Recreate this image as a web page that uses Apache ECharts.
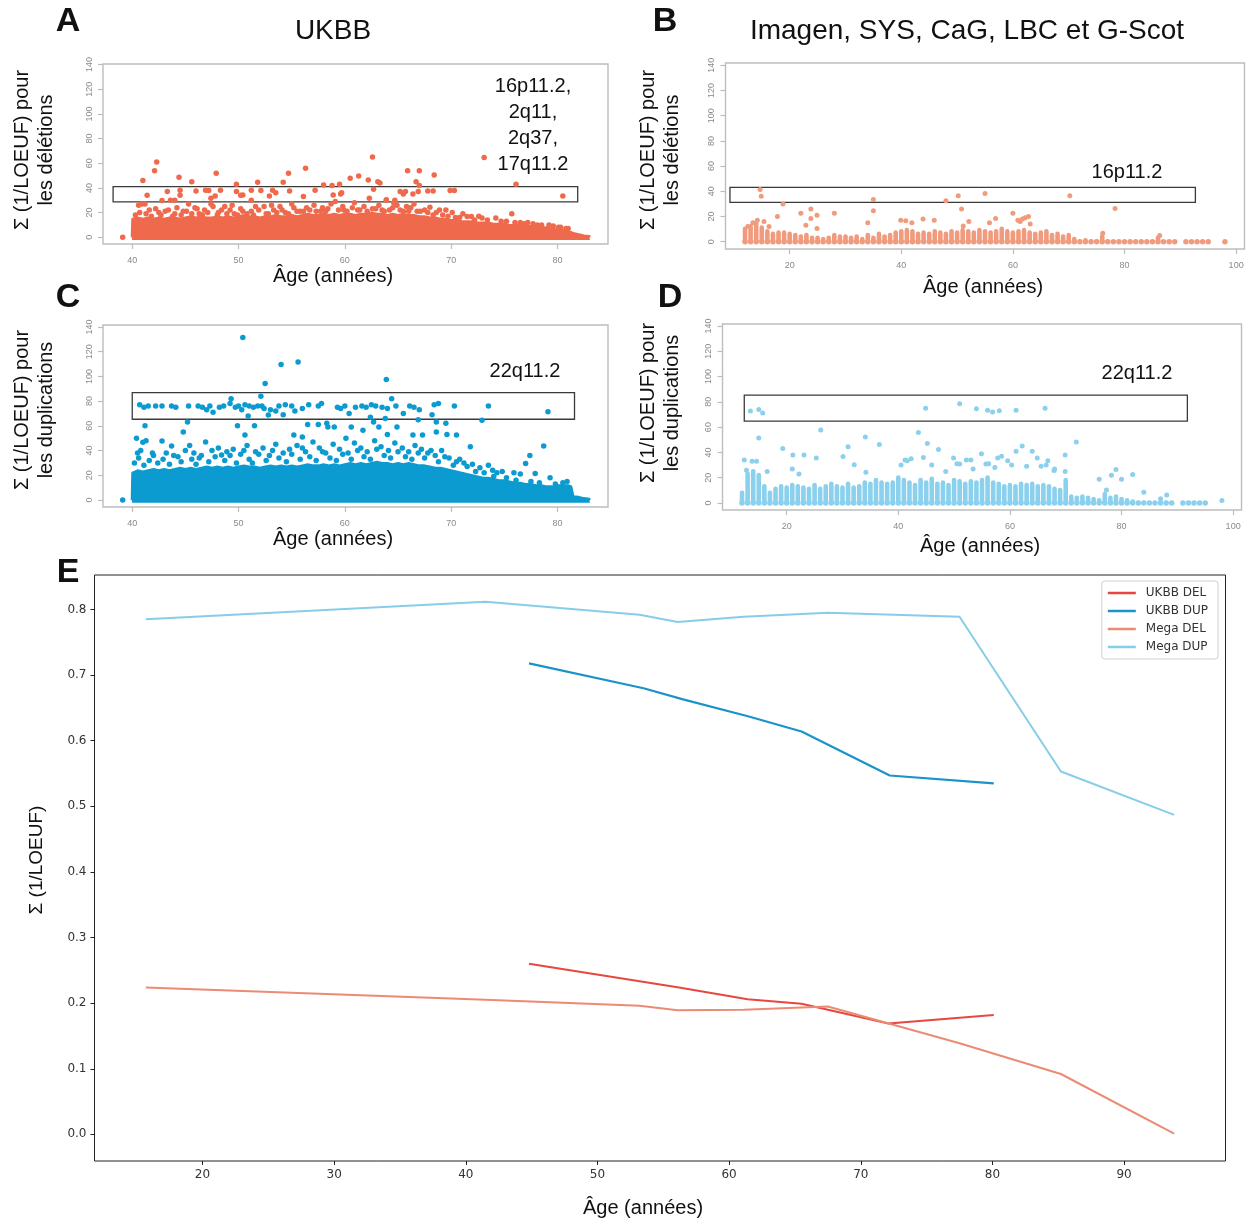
<!DOCTYPE html>
<html><head><meta charset="utf-8">
<script src="https://cdn.jsdelivr.net/npm/echarts@6/dist/echarts.min.js"></script>
<style>html,body{margin:0;padding:0;background:#fff}#c{width:1250px;height:1222px}</style>
</head><body><div id="c"></div>
<script>
// ---------- Tick labels ----------
var ticksAgeUKBB = [40, 50, 60, 70, 80];
var ticksAgeMega = [20, 40, 60, 80, 100];
var ticksScore = [0, 20, 40, 60, 80, 100, 120, 140];
var ticksAgeE = [20, 30, 40, 50, 60, 70, 80, 90];
var ticksE = [0, 0.1, 0.2, 0.3, 0.4, 0.5, 0.6, 0.7, 0.8];

// ---------- Panel A : UKBB deletions ----------
var bandA = [[39.95,0],[40,15],[40.5,16],[41,15],[41.5,16],[42,15],[42.5,16],[43,15],[43.5,16],[44,16],[44.5,15],[45,16],[45.5,17],[46,16],[46.5,17],[47,16],[47.5,16],[48,17],[48.5,16],[49,17],[49.5,16],[50,17],[50.5,18],[51,17],[51.5,17],[52,16],[52.5,17],[53,17],[53.5,18],[54,17],[54.5,17],[55,18],[55.5,17],[56,18],[56.5,19],[57,18],[57.5,18],[58,19],[58.5,18],[59,19],[59.5,18],[60,19],[60.5,19],[61,18],[61.5,19],[62,19],[62.5,20],[63,19],[63.5,19],[64,18],[64.5,19],[65,18],[65.5,19],[66,18],[66.5,18],[67,17],[67.5,17],[68,16],[68.5,16],[69,15],[69.5,15],[70,14],[70.5,14],[71,13],[71.5,13],[72,13],[72.5,12],[73,12],[73.5,12],[74,11],[74.5,11],[75,11],[75.5,10],[76,10],[76.5,10],[77,9],[77.5,9],[78,8],[78.5,8],[79,8],[79.5,7],[80,6],[80.5,6],[81,5],[81.5,3.5],[82,2.5],[82.5,1.5],[83,1],[83.05,0]];
var pointsA = [[40.6,26],[40.9,27],[41.2,27],[41.6,22],[42.5,20],[43.4,22],[44.0,19],[44.8,21],[45.3,27],[45.9,24],[46.3,19],[46.8,22],[47.6,25],[48.1,20],[48.7,25],[49.2,22],[49.6,19],[50.4,21],[51.2,21],[51.6,25],[52.4,25],[52.8,19],[53.3,22],[53.9,25],[54.4,20],[55.2,24],[55.8,21],[56.7,22],[57.1,26],[57.7,21],[58.4,23],[59.1,29],[59.9,22],[60.7,24],[61.4,22],[62.3,31.6],[62.9,23],[63.5,22],[63.9,30],[64.5,24],[64.9,26],[65.5,21],[66.2,24],[66.8,21],[67.5,22],[68,24.4],[68.6,20],[69.2,18],[69.5,22],[70.1,20],[70.8,16],[71.5,16.8],[71.9,16.8],[72.9,15.5],[74.2,15.5],[75.7,19],[76.5,12],[77.7,11],[78.5,10],[79.2,10],[80.1,8],[80.8,7],
[40.3,18],[40.7,20],[41.3,19],[41.8,17],[42.2,23],[42.7,18],[43.1,21],[43.8,17],[44.2,24],[44.6,18],[45.1,21],[45.6,19],[46.1,23],[46.6,18],[47.1,20],[47.4,27],[48.0,18],[48.4,22],[48.9,19],[49.4,26],[49.9,18],[50.2,23],[50.8,19],[51.4,18],[51.9,22],[52.6,19],[53.1,26],[53.6,20],[54.1,22],[54.7,19],[55.0,27],[55.5,21],[56.1,21],[56.4,24],[57.3,21],[57.9,24],[58.2,21],[58.7,27],[59.4,22],[59.8,25],[60.2,21],[60.9,28],[61.2,22],[61.8,25],[62.1,21],[62.6,23],[63.2,26],[63.7,21],[64.2,22],[64.6,28],[65.2,22],[65.8,25],[66.0,21],[66.5,27],[67.1,21],[67.8,20],[68.3,18],[68.9,22],[69.7,17],[70.4,16],[71.1,19],[72.2,14],[72.6,17],[73.4,14],[74.7,13],[75.2,13],[76.0,12],[76.9,11],[77.2,12],[78.1,10],[79.6,9],[80.3,8],[81.0,7],
[39.1,0],[41.0,46],[42.1,54],[42.3,61],[41.4,34],[43.3,37],[43.6,30],[42.8,29.7],[44.4,48.6],[44.5,38],[44.5,34],[45.6,45],[46.0,37.5],[47.2,37.8],[47.4,31.6],[47.9,51.8],[47.8,33.5],[48.3,38],[49.8,43],[49.8,37],[50.4,34.3],[51.2,38],[51.2,30],[51.8,44.5],[52.1,37.8],[52.9,33.5],[53.5,36],[54.2,44.5],[54.7,51.8],[54.8,37.5],[56.3,56],[56.1,33],[57.2,38],[58.0,42.4],[58.9,34.3],[59.5,43],[59.7,36],[60.5,47.8],[61.3,49.6],[62.2,46.4],[62.6,65],[62.7,39],[63.1,45],[63.3,44],[63.9,30.3],[65.2,37],[65.7,37],[65.9,54],[67.0,54],[66.7,45],[66.9,37],[67.0,42],[67.8,37.5],[68.3,37.5],[68.4,50.4],[69.9,37.8],[70.3,37.8],[73.1,64.7],[76.1,43],[80.5,33.5],[44.0,30],[46.9,38],[50.2,34],[53.2,38],[58.8,42],[59.6,35],[64.7,30],[65.5,35],[66.4,35]];
var rectA = [[38.2,28.6],[81.9,41]];

// ---------- Panel B : Mega deletions ----------
var colAgesB = [12,13,14,15,16,17,18,19,20,21,22,23,24,25,26,27,28,29,30,31,32,33,34,35,36,37,38,39,40,41,42,43,44,45,46,47,48,49,50,51,52,53,54,55,56,57,58,59,60,61,62,63,64,65,66,67,68,69,70,71,72,73,74,75,76,77,78,79,80,81,82,83,84,85,86,87,88,89,91,92,93,94,95,98];
var colTopsB = [12,14,16,13,10,8,9,9,8,7,6,7,5,5,4,5,7,6,6,5,6,4,7,5,8,6,7,9,10,11,10,8,9,8,10,9,8,10,9,11,10,9,11,10,9,10,12,10,9,10,11,9,8,9,10,7,8,6,7,4,2,3,2,2,6,2,1,1,1,1,1,1,1,1,5,1,1,1,0,0,0,0,0,0];
var pointsB = [[14.7,41.5],[14.9,36],[18.8,30],[17.8,20],[22.0,22.5],[22.9,13],[23.8,26],[23.8,18.5],[24.9,21],[24.9,10.5],[28.0,22.5],[34.0,15],[35.0,33.5],[35.0,24.5],[39.9,17],[40.8,16.6],[41.9,15],[43.9,18],[45.9,17],[48.0,32.5],[50.2,36.5],[50.8,26],[51.1,12.4],[52.1,16],[55.0,38.3],[55.8,15],[56.9,18.5],[60.0,22.5],[60.9,17],[61.3,16],[61.7,18],[62.2,19],[62.8,20],[63.1,14],[70.2,36.5],[78.3,26.4],[76.1,6.6],[86.3,5],[12.5,12],[13.4,15],[14.2,17],[15.4,16],[16.3,12]];
var rectB = [[9.3,31.2],[92.7,43.1]];

// ---------- Panel C : UKBB duplications ----------
var bandC = [[39.95,0],[40,22],[40.5,24],[41,23],[41.5,24],[42,25],[42.5,24],[43,25],[43.5,24],[44,25],[44.5,26],[45,25],[45.5,26],[46,25],[46.5,26],[47,27],[47.5,26],[48,27],[48.5,26],[49,27],[49.5,26],[50,27],[50.5,28],[51,27],[51.5,27],[52,26],[52.5,27],[53,28],[53.5,27],[54,28],[54.5,27],[55,28],[55.5,27],[56,28],[56.5,29],[57,28],[57.5,28],[58,29],[58.5,28],[59,29],[59.5,28],[60,29],[60.5,30],[61,29],[61.5,30],[62,29],[62.5,30],[63,31],[63.5,30],[64,30],[64.5,29],[65,30],[65.5,29],[66,30],[66.5,29],[67,28],[67.5,28],[68,27],[68.5,26],[69,26],[69.5,25],[70,24],[70.5,23],[71,22],[71.5,21],[72,20],[72.5,19],[73,18],[73.5,18],[74,17],[74.5,16],[75,16],[75.5,15],[76,14],[76.5,14],[77,13],[77.5,13],[78,12],[78.5,12],[79,11],[79.5,11],[80,12],[80.5,12],[81,12],[81.3,11],[81.5,3],[82,2.5],[82.5,1.5],[83,1],[83.05,0]];
var pointsC = [[40.5,38],[40.8,40],[41.0,46.7],[41.3,48],[42.0,36],[42.8,47.7],[43.2,38],[43.7,43.6],[44.3,35],[45.4,44],[45.8,38],[46.3,34],[46.9,47],[47.5,40],[48.4,36.3],[48.9,39],[49.5,41],[50.2,37],[50.8,44],[51.6,39],[52.3,42],[52.9,36],[53.5,45],[54.2,38],[54.8,41],[55.5,44],[56.3,39],[57.0,47],[57.6,42],[58.2,38],[58.9,45],[59.5,41],[60.3,38],[60.9,46],[61.5,42],[62.1,39],[62.8,48],[63.4,43],[64.1,40],[64.7,46],[65.4,42],[66.0,39],[66.6,44],[67.2,41],[67.8,38],[68.5,36],[69.1,40],[69.8,34],[70.5,31],[71.2,30],[72.0,29],[72.7,26],[73.5,28],[74.3,22],[75.9,22],[76.5,21],[77.0,29.6],[77.4,36],[77.9,21.5],[78.7,43.6],[79.3,18],[80.5,14],[73.9,24],[74.8,23],
[40.2,30],[40.6,34],[41.1,28],[41.6,32],[41.9,38],[42.4,30],[42.9,33],[43.5,29],[43.9,36],[44.6,31],[45.0,40],[45.6,33],[46.0,29],[46.5,36],[47.2,31],[47.8,35],[48.1,42],[48.7,32],[49.2,36],[49.8,30],[50.5,40],[51.0,33],[51.3,30],[51.9,37],[52.6,32],[53.2,40],[53.8,34],[54.5,31],[55.0,37],[55.8,33],[56.0,42],[56.7,35],[57.3,32],[57.9,39],[58.6,34],[59.2,32],[59.8,37],[60.6,33],[61.2,40],[61.8,35],[62.4,33],[63.0,41],[63.7,36],[64.3,34],[65.0,39],[65.7,35],[66.3,33],[66.9,38],[67.5,34],[68.1,40],[68.8,31],[69.4,35],[70.2,28],[70.8,33],[71.5,27],[72.3,23],[73.1,22],[74.0,19],[75.2,18],[76.1,16],[77.5,15],[78.3,14],[79.8,13],[80.9,15],
[39.1,0],[50.4,131.4],[54.0,109.6],[55.6,111.7],[52.5,94.2],[52.1,84],[63.9,97.5],[79.1,71.3],[72.9,64.6],[73.5,76],
[40.7,77],[41.1,75],[41.5,76],[42.2,76],[42.8,76],[43.7,76],[44.1,75],[45.3,76],[46.2,76],[46.6,75],[47.0,73],[47.3,76],[47.6,71],[48.2,75],[48.6,76],[49.2,78],[49.3,82],[49.7,75],[50.0,76],[50.3,73],[50.6,77],[51.0,76],[51.4,75],[51.8,76],[52.2,76],[52.4,74],[53.0,73],[53.8,76],[54.4,77],[55.0,76],[55.3,72],[56.0,74],[56.6,77],[57.5,76],[57.8,78],[59.3,75],[59.6,74],[60.0,76],[60.4,70],[61.0,75],[61.6,76],[62.0,75],[62.5,77],[62.9,76],[63.5,75],[64.0,74],[64.4,82],[64.8,76],[66.1,76],[66.5,75],[67.0,73],[68.4,77],[68.8,78],[70.3,76],
[41.2,60],[45.2,63],[44.8,55],[40.4,50],[49.9,60],[50.6,52.5],[51.5,60],[52.8,68.7],[55.2,52.5],[56.0,51],[56.5,61],[57.5,61],[58.4,59],[59.0,59],[60.1,50],[60.6,59],[61.7,56.5],[62.7,63],[63.2,59],[64.0,53],[64.9,59],[66.4,52.5],[67.3,52.5],[68.6,55],[68.6,63],[69.6,53],[70.5,52.5],[71.8,43],[50.9,68],[53.5,72],[54.2,69],[58.3,62],[62.4,67],[63.8,66],[65.5,70],[66.9,65],[68.2,69],[69.5,62]];
var rectC = [[40.0,65.3],[81.6,86.8]];

// ---------- Panel D : Mega duplications ----------
var colAgesD = [12,13,14,15,16,17,18,19,20,21,22,23,24,25,26,27,28,29,30,31,32,33,34,35,36,37,38,39,40,41,42,43,44,45,46,47,48,49,50,51,52,53,54,55,56,57,58,59,60,61,62,63,64,65,66,67,68,69,70,71,72,73,74,75,76,77,78,79,80,81,82,83,84,85,86,87,88,89,91,92,93,94,95];
var colTopsD = [10,25,27,24,15,10,13,15,14,16,15,14,13,16,13,15,17,15,14,17,14,15,18,17,20,18,17,18,22,20,18,16,20,18,21,17,18,16,20,19,17,19,18,20,22,18,17,15,16,15,17,16,17,15,16,15,13,12,20,7,6,7,6,5,4,9,6,7,5,4,3,2,2,1,1,1,2,1,0,0,0,0,0];
var pointsD = [[13.5,72.7],[15.0,74],[15.7,71.2],[44.9,75],[51.0,78.4],[54.0,74.5],[56.0,73.3],[56.9,72],[58.1,73],[61.1,73.3],[66.3,75],[15,51.4],[26.1,57.8],[34.1,52.2],[36.6,46.3],[30.1,36.8],[31,44.5],[32.1,30.3],[34.2,24.4],[19.3,43.2],[21.1,38],[23.1,38],[25.3,35.5],[22.2,23],[21,27],[43.6,55.8],[45.2,47],[47.2,42.4],[41.6,33.4],[49.9,35.5],[51,30.8],[53,34],[54.9,39],[55.7,30.8],[57.8,35.5],[59.6,33.4],[61.1,41],[62.2,45],[64,41],[64.9,35.5],[66.8,33.4],[67.9,25.7],[69.9,38],[69.9,25],[71.9,48.3],[76,18.8],[77.3,10.3],[78.2,21.9],[79,26.5],[80,18.8],[82,22.6],[84,8.5],[87,3.3],[88.1,6.4],[12.4,34],[12.8,26],[13.8,33],[14.6,33],[16.5,25],[40.5,30],[41.2,34],[42.3,35],[44.5,36],[46.0,30],[48.5,25],[50.5,31],[52.2,34],[53.4,27],[56.2,31],[57.3,28],[58.5,37],[60.3,30],[63.0,29],[65.6,29],[66.5,30],[68.0,27],[98,2]];
var rectD = [[12.4,64.8],[91.8,85.3]];

// ---------- Panel E : mean Σ(1/LOEUF) by age ----------
var ukbbDelAge = [44.8, 56.2, 61.4, 65.5, 72.1, 80.1];
var ukbbDelVal = [0.260, 0.224, 0.206, 0.199, 0.169, 0.182];
var ukbbDupAge = [44.8, 53.5, 56.5, 61.5, 65.5, 72.2, 80.1];
var ukbbDupVal = [0.718, 0.680, 0.663, 0.637, 0.614, 0.547, 0.535];
var megaDelAge = [15.7, 41.5, 53.2, 56.1, 61.1, 67.5, 77.5, 85.2, 93.8];
var megaDelVal = [0.224, 0.205, 0.196, 0.189, 0.190, 0.195, 0.139, 0.092, 0.001];
var megaDupAge = [15.7, 41.5, 53.2, 56.1, 61.1, 67.5, 77.5, 85.2, 93.8];
var megaDupVal = [0.785, 0.812, 0.792, 0.781, 0.789, 0.795, 0.789, 0.553, 0.487];

var colA = '#ef6a4d', colB = '#f09b7d', colC = '#0b9bd0', colD = '#8bd0ec';
var SANS = '"Liberation Sans", Arial, Helvetica, sans-serif';
var DJ = '"DejaVu Sans", sans-serif';

function pair(a, v) { return a.map(function (x, i) { return [x, v[i]]; }); }

var grids = [
  {left: 103, top: 64, width: 505, height: 180},
  {left: 725.5, top: 63, width: 519, height: 186},
  {left: 103, top: 325, width: 505, height: 182},
  {left: 722.5, top: 324, width: 519, height: 186},
  {left: 94.5, top: 575, width: 1131, height: 586}
].map(function (g, i) {
  return Object.assign({show: true, backgroundColor: 'transparent',
    borderColor: i === 4 ? '#222' : '#bdbdbd', borderWidth: i === 4 ? 1 : 1.4,
    containLabel: false, outerBoundsMode: 'none'}, g);
});

function rAxisX(gi, min, max, ticks) {
  return {type: 'value', gridIndex: gi, min: min, max: max, position: 'bottom',
    axisLine: {show: false, onZero: false}, splitLine: {show: false},
    axisTick: {show: true, customValues: ticks, length: 5, lineStyle: {color: '#bdbdbd', width: 1.2}},
    axisLabel: {customValues: ticks, margin: 12, fontSize: 9, color: '#8a8a8a', fontFamily: SANS}};
}
function rAxisY(gi, min, max) {
  return {type: 'value', gridIndex: gi, min: min, max: max, position: 'left',
    axisLine: {show: false, onZero: false}, splitLine: {show: false},
    axisTick: {show: true, customValues: ticksScore, length: 5, lineStyle: {color: '#bdbdbd', width: 1.2}},
    axisLabel: {customValues: ticksScore, rotate: 90, margin: 9, fontSize: 9, color: '#8a8a8a', fontFamily: SANS}};
}

var xAxes = [
  rAxisX(0, 37.25, 84.75, ticksAgeUKBB),
  rAxisX(1, 8.5, 101.5, ticksAgeMega),
  rAxisX(2, 37.25, 84.75, ticksAgeUKBB),
  rAxisX(3, 8.5, 101.5, ticksAgeMega),
  {type: 'value', gridIndex: 4, min: 11.8, max: 97.7, position: 'bottom',
   axisLine: {show: false, onZero: false}, splitLine: {show: false},
   axisTick: {show: true, customValues: ticksAgeE, length: 4, lineStyle: {color: '#222'}},
   axisLabel: {customValues: ticksAgeE, margin: 8, fontSize: 12, color: '#333', fontFamily: DJ}}
];
var yAxes = [
  rAxisY(0, -5.5, 140.5),
  rAxisY(1, -5.8, 141.8),
  rAxisY(2, -5.7, 141.6),
  rAxisY(3, -5.5, 141.5),
  {type: 'value', gridIndex: 4, min: -0.0406, max: 0.8526, position: 'left',
   axisLine: {show: false, onZero: false}, splitLine: {show: false},
   axisTick: {show: true, customValues: ticksE, length: 4, lineStyle: {color: '#222'}},
   axisLabel: {customValues: ticksE, margin: 8, fontSize: 12, color: '#333', fontFamily: DJ,
     formatter: function (v) { return v.toFixed(1); }}}
];

function markRect(r) {
  return {silent: true, itemStyle: {color: 'rgba(0,0,0,0)', borderColor: '#3a3a3a', borderWidth: 1.3},
    data: [[{coord: r[0]}, {coord: r[1]}]]};
}
function band(gi, data, color) {
  return {type: 'line', xAxisIndex: gi, yAxisIndex: gi, data: data, symbol: 'none', silent: true,
    lineStyle: {width: 2, color: color}, areaStyle: {color: color, opacity: 1, origin: -2.2}, z: 2};
}
function dots(gi, data, color, size, rect) {
  var s = {type: 'scatter', xAxisIndex: gi, yAxisIndex: gi, data: data, symbolSize: size, silent: true,
    itemStyle: {color: color, opacity: 1}, z: 3};
  if (rect) s.markArea = markRect(rect);
  return s;
}
function cols(gi, ages, tops, color) {
  return {type: 'bar', xAxisIndex: gi, yAxisIndex: gi, data: pair(ages, tops), barWidth: 4.6, silent: true,
    itemStyle: {color: color, borderRadius: [2.3, 2.3, 0, 0]}, z: 2};
}
function zeroDots(ages) { return ages.map(function (a) { return [a, 0]; }); }
function eLine(name, ages, vals, color, w) {
  return {type: 'line', name: name, xAxisIndex: 4, yAxisIndex: 4, data: pair(ages, vals), symbol: 'none',
    lineStyle: {width: w, color: color}, itemStyle: {color: color}, z: 4};
}

var series = [
  band(0, bandA, colA),
  dots(0, pointsA, colA, 5.5, rectA),
  cols(1, colAgesB, colTopsB, colB),
  dots(1, zeroDots(colAgesB), colB, 5.5),
  dots(1, pointsB, colB, 5, rectB),
  band(2, bandC, colC),
  dots(2, pointsC, colC, 5.5, rectC),
  cols(3, colAgesD, colTopsD, colD),
  dots(3, zeroDots(colAgesD), colD, 5.5),
  dots(3, pointsD, colD, 5, rectD),
  eLine('UKBB DEL', ukbbDelAge, ukbbDelVal, '#e8473f', 2),
  eLine('UKBB DUP', ukbbDupAge, ukbbDupVal, '#1a93c8', 2.2),
  eLine('Mega DEL', megaDelAge, megaDelVal, '#eb8b74', 2),
  eLine('Mega DUP', megaDupAge, megaDupVal, '#87cde8', 2)
];

function txt(text, x, y, font, extra) {
  var st = Object.assign({text: text, font: font, fill: '#111', align: 'center', verticalAlign: 'middle'}, extra || {});
  return {type: 'text', x: x, y: y, style: st, silent: true, z: 10};
}
function rtxt(text, x, y, font, lh) {
  return {type: 'text', x: x, y: y, rotation: Math.PI / 2, silent: true, z: 10,
    style: {text: text, font: font, fill: '#111', align: 'center', verticalAlign: 'middle', lineHeight: lh}};
}
var F_LET = 'bold 34px ' + SANS, F_TIT = '28px ' + SANS, F_AX = '20px ' + SANS, F_ANN = '20px ' + SANS;

var graphics = [
  txt('A', 68, 22, F_LET), txt('UKBB', 333, 31, F_TIT),
  txt('B', 665, 22, F_LET), txt('Imagen, SYS, CaG, LBC et G-Scot', 967, 31, F_TIT),
  txt('C', 68, 298, F_LET), txt('D', 670, 298, F_LET), txt('E', 68, 573, F_LET),
  rtxt('Σ (1/LOEUF) pour\nles délétions', 34, 150, F_AX, 24),
  rtxt('Σ (1/LOEUF) pour\nles délétions', 660, 150, F_AX, 24),
  rtxt('Σ (1/LOEUF) pour\nles duplications', 34, 410, F_AX, 24),
  rtxt('Σ (1/LOEUF) pour\nles duplications', 660, 403, F_AX, 24),
  rtxt('Σ (1/LOEUF)', 37, 860, '19px ' + SANS, 22),
  txt('Âge (années)', 333, 276, F_AX), txt('Âge (années)', 983, 287, F_AX),
  txt('Âge (années)', 333, 539, F_AX), txt('Âge (années)', 980, 546, F_AX),
  txt('Âge (années)', 643, 1208, F_AX),
  txt('16p11.2,\n2q11,\n2q37,\n17q11.2', 533, 125, F_ANN, {lineHeight: 26}),
  txt('16p11.2', 1127, 172, F_ANN),
  txt('22q11.2', 525, 371, F_ANN),
  txt('22q11.2', 1137, 373, F_ANN)
];

var chart = echarts.init(document.getElementById('c'), null, {renderer: 'canvas'});
chart.setOption({
  animation: false,
  backgroundColor: '#fff',
  grid: grids,
  xAxis: xAxes,
  yAxis: yAxes,
  legend: {data: ['UKBB DEL', 'UKBB DUP', 'Mega DEL', 'Mega DUP'], orient: 'vertical', right: 32, top: 581,
    icon: 'rect', itemWidth: 28, itemHeight: 2.5, itemGap: 6, padding: [6, 10, 6, 6],
    borderColor: '#cfcfcf', borderWidth: 1, borderRadius: 3, backgroundColor: '#fff',
    textStyle: {fontFamily: DJ, fontSize: 12, color: '#333', padding: [0, 0, 0, 5]}, selectedMode: false},
  series: series,
  graphic: graphics
});
</script>
</body></html>
